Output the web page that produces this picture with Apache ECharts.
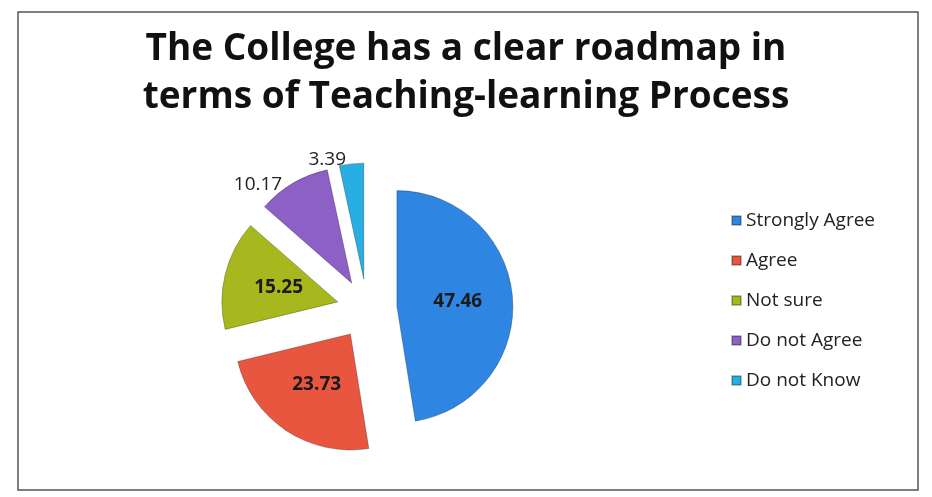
<!DOCTYPE html>
<html>
<head>
<meta charset="utf-8">
<script src="https://cdn.jsdelivr.net/npm/echarts@6/dist/echarts.min.js"></script>
<style>
  html, body { margin: 0; padding: 0; background: #fff; }
  #main { width: 932px; height: 497px; }
</style>
</head>
<body>
<div id="main"></div>
<script>
// survey answers (percent)
var categories = ["Strongly Agree", "Agree", "Not sure", "Do not Agree", "Do not Know"];
var values = [47.46, 23.73, 15.25, 10.17, 3.39];
var colors = ["#2f86e2", "#e8563f", "#a6b81e", "#8c60c4", "#28aee2"];
var labelPlaces = ["inside", "inside", "inside", "outside", "outside"];

var chartDom = document.getElementById("main");
var myChart = echarts.init(chartDom);
var option;

var pieData = categories.map(function (name, i) {
  return {
    name: name,
    value: values[i],
    selected: true,
    itemStyle: { color: colors[i] },
    label: {
      position: labelPlaces[i],
      color: labelPlaces[i] === "inside" ? "#1a1a1a" : "#222",
      fontWeight: labelPlaces[i] === "inside" ? "bold" : "normal",
    },
    labelLine: { show: false, length: 4, length2: 0 },
  };
});

option = {
  backgroundColor: "#ffffff",
  title: {
    text: "The College has a clear roadmap in\nterms of Teaching-learning Process",
    left: "center",
    top: 20,
    textStyle: {
      fontFamily: "Open Sans",
      fontWeight: "bold",
      fontSize: 37,
      lineHeight: 48,
      color: "#111",
    },
  },
  legend: {
    orient: "vertical",
    left: 726,
    top: 206,
    itemWidth: 9,
    itemHeight: 9,
    itemGap: 21,
    icon: "rect",
    textStyle: { fontFamily: "Open Sans", fontSize: 19, color: "#222" },
    data: categories,
  },
  graphic: [
    {
      type: "rect",
      shape: { x: 18, y: 12, width: 900, height: 478 },
      style: { fill: "none", stroke: "#555", lineWidth: 1.5 },
    },
  ],
  series: [
    {
      type: "pie",
      center: [367, 309],
      radius: [0, 116],
      startAngle: 90,
      clockwise: true,
      selectedMode: "multiple",
      selectedOffset: 30,
      animation: false,
      itemStyle: { borderColor: "rgba(0,0,0,0.25)", borderWidth: 1 },
      label: {
        show: true,
        formatter: "{c}",
        fontFamily: "Open Sans",
        fontSize: 19,
      },
      emphasis: { disabled: true },
      data: pieData,
    },
  ],
};

option && myChart.setOption(option);
</script>
</body>
</html>
